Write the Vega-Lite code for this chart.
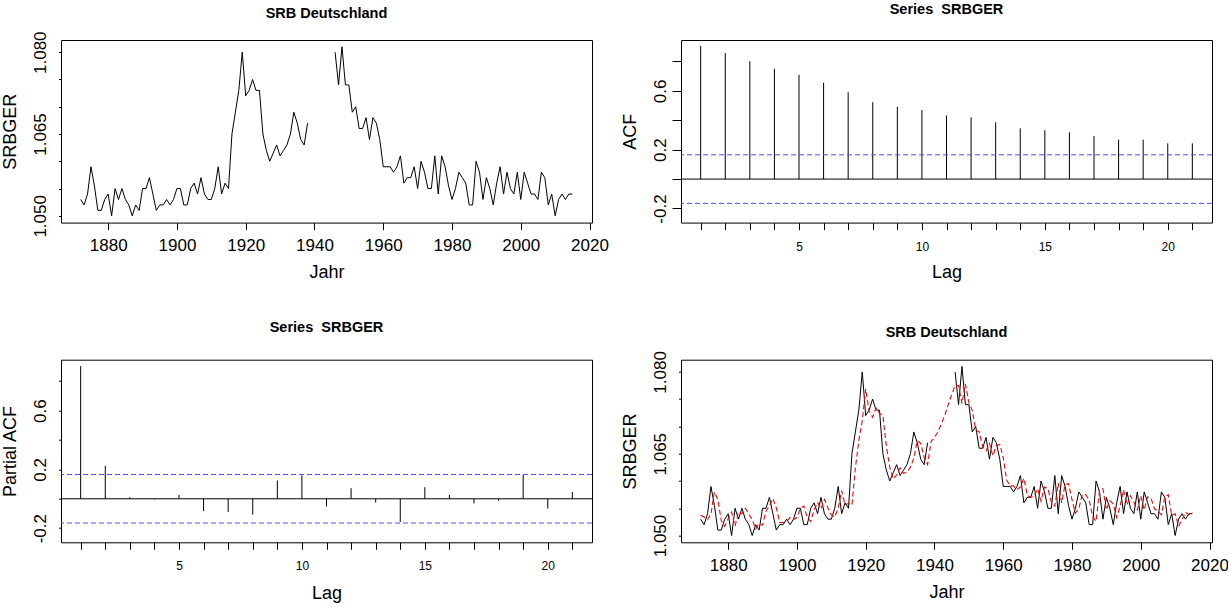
{
  "$schema": "https://vega.github.io/schema/vega-lite/v6.json",
  "background": "white",
  "autosize": {"type": "pad"},
  "padding": {"left": 0, "top": 1, "right": 4, "bottom": 2},
  "columns": 2,
  "spacing": {"row": 136.7, "column": 89},
  "bounds": "flush",
  "datasets": {
    "ts": [
      {"year":1872,"srb":1.053,"fit":1.0537,"seg":1},{"year":1873,"srb":1.052,"fit":1.0534,"seg":1},{"year":1874,"srb":1.054,"fit":1.0529,"seg":1},{"year":1875,"srb":1.059,"fit":1.054,"seg":1},{"year":1876,"srb":1.0555,"fit":1.058,"seg":1},{"year":1877,"srb":1.051,"fit":1.0566,"seg":1},{"year":1878,"srb":1.051,"fit":1.0527,"seg":1},{"year":1879,"srb":1.053,"fit":1.0517,"seg":1},{"year":1880,"srb":1.054,"fit":1.0531,"seg":1},{"year":1881,"srb":1.05,"fit":1.0543,"seg":1},{"year":1882,"srb":1.055,"fit":1.0517,"seg":1},{"year":1883,"srb":1.053,"fit":1.0543,"seg":1},{"year":1884,"srb":1.055,"fit":1.054,"seg":1},{"year":1885,"srb":1.053,"fit":1.055,"seg":1},{"year":1886,"srb":1.052,"fit":1.054,"seg":1},{"year":1887,"srb":1.05,"fit":1.0529,"seg":1},{"year":1888,"srb":1.052,"fit":1.0512,"seg":1},{"year":1889,"srb":1.051,"fit":1.0522,"seg":1},{"year":1890,"srb":1.055,"fit":1.0519,"seg":1},{"year":1891,"srb":1.055,"fit":1.0545,"seg":1},{"year":1892,"srb":1.057,"fit":1.0554,"seg":1},{"year":1893,"srb":1.054,"fit":1.0568,"seg":1},{"year":1894,"srb":1.051,"fit":1.0551,"seg":1},{"year":1895,"srb":1.052,"fit":1.0524,"seg":1},{"year":1896,"srb":1.052,"fit":1.0524,"seg":1},{"year":1897,"srb":1.053,"fit":1.0526,"seg":1},{"year":1898,"srb":1.052,"fit":1.0533,"seg":1},{"year":1899,"srb":1.053,"fit":1.0529,"seg":1},{"year":1900,"srb":1.055,"fit":1.0533,"seg":1},{"year":1901,"srb":1.055,"fit":1.055,"seg":1},{"year":1902,"srb":1.052,"fit":1.0554,"seg":1},{"year":1903,"srb":1.052,"fit":1.0533,"seg":1},{"year":1904,"srb":1.055,"fit":1.0526,"seg":1},{"year":1905,"srb":1.056,"fit":1.0547,"seg":1},{"year":1906,"srb":1.054,"fit":1.0561,"seg":1},{"year":1907,"srb":1.057,"fit":1.0549,"seg":1},{"year":1908,"srb":1.054,"fit":1.0566,"seg":1},{"year":1909,"srb":1.053,"fit":1.0551,"seg":1},{"year":1910,"srb":1.053,"fit":1.0538,"seg":1},{"year":1911,"srb":1.055,"fit":1.0534,"seg":1},{"year":1912,"srb":1.059,"fit":1.055,"seg":1},{"year":1913,"srb":1.054,"fit":1.0582,"seg":1},{"year":1914,"srb":1.056,"fit":1.0556,"seg":1},{"year":1915,"srb":1.055,"fit":1.0559,"seg":1},{"year":1916,"srb":1.065,"fit":1.0556,"seg":1},{"year":1917,"srb":1.069,"fit":1.0624,"seg":1},{"year":1918,"srb":1.073,"fit":1.0674,"seg":1},{"year":1919,"srb":1.08,"fit":1.0711,"seg":1},{"year":1920,"srb":1.072,"fit":1.0769,"seg":1},{"year":1921,"srb":1.073,"fit":1.0728,"seg":1},{"year":1922,"srb":1.075,"fit":1.0717,"seg":1},{"year":1923,"srb":1.073,"fit":1.0734,"seg":1},{"year":1924,"srb":1.073,"fit":1.0724,"seg":1},{"year":1925,"srb":1.065,"fit":1.072,"seg":1},{"year":1926,"srb":1.062,"fit":1.0664,"seg":1},{"year":1927,"srb":1.06,"fit":1.0625,"seg":1},{"year":1928,"srb":1.0615,"fit":1.0604,"seg":1},{"year":1929,"srb":1.063,"fit":1.0611,"seg":1},{"year":1930,"srb":1.061,"fit":1.0624,"seg":1},{"year":1931,"srb":1.062,"fit":1.0614,"seg":1},{"year":1932,"srb":1.063,"fit":1.0616,"seg":1},{"year":1933,"srb":1.065,"fit":1.0625,"seg":1},{"year":1934,"srb":1.069,"fit":1.0642,"seg":1},{"year":1935,"srb":1.067,"fit":1.0674,"seg":1},{"year":1936,"srb":1.064,"fit":1.0669,"seg":1},{"year":1937,"srb":1.063,"fit":1.0643,"seg":1},{"year":1938,"srb":1.067,"fit":1.063,"seg":1},
      {"year":1939,"srb":null,"fit":1.0672,"seg":0},{"year":1940,"srb":null,"fit":1.068,"seg":0},{"year":1941,"srb":null,"fit":1.069,"seg":0},{"year":1942,"srb":null,"fit":1.0705,"seg":0},{"year":1943,"srb":null,"fit":1.072,"seg":0},{"year":1944,"srb":null,"fit":1.074,"seg":0},{"year":1945,"srb":null,"fit":1.0758,"seg":0},
      {"year":1946,"srb":1.08,"fit":1.0775,"seg":2},{"year":1947,"srb":1.074,"fit":1.0775,"seg":2},{"year":1948,"srb":1.081,"fit":1.0742,"seg":2},{"year":1949,"srb":1.074,"fit":1.0778,"seg":2},{"year":1950,"srb":1.074,"fit":1.0744,"seg":2},{"year":1951,"srb":1.069,"fit":1.0729,"seg":2},{"year":1952,"srb":1.07,"fit":1.0694,"seg":2},{"year":1953,"srb":1.066,"fit":1.069,"seg":2},{"year":1954,"srb":1.066,"fit":1.0664,"seg":2},{"year":1955,"srb":1.068,"fit":1.0655,"seg":2},{"year":1956,"srb":1.064,"fit":1.0669,"seg":2},{"year":1957,"srb":1.068,"fit":1.0646,"seg":2},{"year":1958,"srb":1.067,"fit":1.0665,"seg":2},{"year":1959,"srb":1.064,"fit":1.0667,"seg":2},{"year":1960,"srb":1.059,"fit":1.0643,"seg":2},{"year":1961,"srb":1.059,"fit":1.0602,"seg":2},{"year":1962,"srb":1.059,"fit":1.0591,"seg":2},{"year":1963,"srb":1.058,"fit":1.0591,"seg":2},{"year":1964,"srb":1.059,"fit":1.0584,"seg":2},{"year":1965,"srb":1.061,"fit":1.0589,"seg":2},{"year":1966,"srb":1.056,"fit":1.0605,"seg":2},{"year":1967,"srb":1.057,"fit":1.0574,"seg":2},{"year":1968,"srb":1.057,"fit":1.057,"seg":2},{"year":1969,"srb":1.059,"fit":1.0572,"seg":2},{"year":1970,"srb":1.055,"fit":1.0586,"seg":2},{"year":1971,"srb":1.06,"fit":1.0563,"seg":2},{"year":1972,"srb":1.058,"fit":1.0589,"seg":2},{"year":1973,"srb":1.055,"fit":1.0586,"seg":2},{"year":1974,"srb":1.055,"fit":1.0561,"seg":2},{"year":1975,"srb":1.061,"fit":1.0554,"seg":2},{"year":1976,"srb":1.054,"fit":1.0596,"seg":2},{"year":1977,"srb":1.061,"fit":1.056,"seg":2},{"year":1978,"srb":1.059,"fit":1.0594,"seg":2},{"year":1979,"srb":1.0555,"fit":1.0595,"seg":2},{"year":1980,"srb":1.053,"fit":1.0566,"seg":2},{"year":1981,"srb":1.055,"fit":1.0541,"seg":2},{"year":1982,"srb":1.058,"fit":1.055,"seg":2},{"year":1983,"srb":1.057,"fit":1.0575,"seg":2},{"year":1984,"srb":1.056,"fit":1.0575,"seg":2},{"year":1985,"srb":1.052,"fit":1.0565,"seg":2},{"year":1986,"srb":1.052,"fit":1.0535,"seg":2},{"year":1987,"srb":1.06,"fit":1.0526,"seg":2},{"year":1988,"srb":1.058,"fit":1.0582,"seg":2},{"year":1989,"srb":1.053,"fit":1.0586,"seg":2},{"year":1990,"srb":1.057,"fit":1.0547,"seg":2},{"year":1991,"srb":1.055,"fit":1.0564,"seg":2},{"year":1992,"srb":1.052,"fit":1.0558,"seg":2},{"year":1993,"srb":1.056,"fit":1.0533,"seg":2},{"year":1994,"srb":1.059,"fit":1.0554,"seg":2},{"year":1995,"srb":1.054,"fit":1.0584,"seg":2},{"year":1996,"srb":1.058,"fit":1.0556,"seg":2},{"year":1997,"srb":1.055,"fit":1.0573,"seg":2},{"year":1998,"srb":1.054,"fit":1.0561,"seg":2},{"year":1999,"srb":1.058,"fit":1.0547,"seg":2},{"year":2000,"srb":1.053,"fit":1.0573,"seg":2},{"year":2001,"srb":1.058,"fit":1.0547,"seg":2},{"year":2002,"srb":1.056,"fit":1.0571,"seg":2},{"year":2003,"srb":1.054,"fit":1.0568,"seg":2},{"year":2004,"srb":1.054,"fit":1.0549,"seg":2},{"year":2005,"srb":1.053,"fit":1.0545,"seg":2},{"year":2006,"srb":1.058,"fit":1.0538,"seg":2},{"year":2007,"srb":1.057,"fit":1.0571,"seg":2},{"year":2008,"srb":1.052,"fit":1.0575,"seg":2},{"year":2009,"srb":1.054,"fit":1.0537,"seg":2},{"year":2010,"srb":1.05,"fit":1.054,"seg":2},{"year":2011,"srb":1.053,"fit":1.0517,"seg":2},{"year":2012,"srb":1.054,"fit":1.0529,"seg":2},{"year":2013,"srb":1.053,"fit":1.0543,"seg":2},{"year":2014,"srb":1.054,"fit":1.0538,"seg":2},{"year":2015,"srb":1.054,"fit":1.0543,"seg":2}
    ],
    "acf": [
      {"lag":1,"acf":0.905},{"lag":2,"acf":0.857},{"lag":3,"acf":0.802},{"lag":4,"acf":0.75},{"lag":5,"acf":0.709},{"lag":6,"acf":0.655},{"lag":7,"acf":0.591},{"lag":8,"acf":0.523},{"lag":9,"acf":0.491},{"lag":10,"acf":0.47},{"lag":11,"acf":0.432},{"lag":12,"acf":0.42},{"lag":13,"acf":0.386},{"lag":14,"acf":0.345},{"lag":15,"acf":0.332},{"lag":16,"acf":0.318},{"lag":17,"acf":0.293},{"lag":18,"acf":0.268},{"lag":19,"acf":0.268},{"lag":20,"acf":0.243},{"lag":21,"acf":0.243}
    ],
    "pacf": [
      {"lag":1,"pacf":0.902},{"lag":2,"pacf":0.224},{"lag":3,"pacf":0.011},{"lag":4,"pacf":-0.004},{"lag":5,"pacf":0.027},{"lag":6,"pacf":-0.084},{"lag":7,"pacf":-0.09},{"lag":8,"pacf":-0.108},{"lag":9,"pacf":0.124},{"lag":10,"pacf":0.16},{"lag":11,"pacf":-0.052},{"lag":12,"pacf":0.072},{"lag":13,"pacf":-0.025},{"lag":14,"pacf":-0.158},{"lag":15,"pacf":0.079},{"lag":16,"pacf":0.027},{"lag":17,"pacf":-0.032},{"lag":18,"pacf":-0.014},{"lag":19,"pacf":0.163},{"lag":20,"pacf":-0.066},{"lag":21,"pacf":0.047}
    ],
    "ci": [{"ci":0.165},{"ci":-0.165}],
    "zero": [{"z":0}]
  },
  "concat": [
    {
      "width": 531, "height": 182.6,
      "title": {"text": "SRB Deutschland", "fontSize": 14.5, "fontWeight": "bold", "anchor": "middle", "frame": "group", "baseline": "alphabetic", "offset": -1.8},
      "data": {"name": "ts"},
      "transform": [{"filter": "datum.srb != null"}],
      "mark": {"type": "line", "color": "#000", "strokeWidth": 1},
      "encoding": {
        "x": {"field": "year", "type": "quantitative", "scale": {"domain": [1866.28, 2020.72], "nice": false, "zero": false},
          "axis": {"values": [1880,1900,1920,1940,1960,1980,2000,2020], "format": "d", "title": "Jahr", "tickSize": 7, "labelPadding": 20.5, "labelBaseline": "alphabetic", "labelFontSize": 17, "labelFlush": false, "labelOverlap": false, "titleX": 265.5, "titleY": 54.5, "titleBaseline": "alphabetic", "titleAlign": "center"}},
        "y": {"field": "srb", "type": "quantitative", "scale": {"domain": [1.04876, 1.08224], "nice": false, "zero": false},
          "axis": {"values": [1.05,1.055,1.06,1.065,1.07,1.075,1.08], "labelExpr": "(abs(datum.value-1.05)<1e-6 || abs(datum.value-1.065)<1e-6 || abs(datum.value-1.08)<1e-6) ? format(datum.value, '.3f') : ''", "title": "SRBGER", "tickSize": 2.5, "labelAngle": -90, "labelAlign": "center", "labelBaseline": "alphabetic", "labelPadding": 13.2, "labelFontSize": 17, "labelOverlap": false, "labelFlush": false, "titleX": -45.7, "titleY": 91.3, "titleAngle": -90, "titleAlign": "center", "titleBaseline": "alphabetic"}},
        "detail": {"field": "seg", "type": "nominal"}
      }
    },
    {
      "width": 531, "height": 182.6,
      "title": {"text": "Series \u00a0SRBGER", "fontSize": 14.5, "fontWeight": "bold", "anchor": "middle", "frame": "group", "baseline": "alphabetic", "offset": 12},
      "layer": [
        {
          "data": {"name": "acf"},
          "mark": {"type": "rule", "color": "#000", "strokeWidth": 1},
          "encoding": {
            "x": {"field": "lag", "type": "quantitative", "scale": {"domain": [0.2, 21.8], "nice": false, "zero": false},
              "axis": {"values": [1,2,3,4,5,6,7,8,9,10,11,12,13,14,15,16,17,18,19,20,21], "labelExpr": "datum.value % 5 == 0 ? datum.label : ''", "title": "Lag", "tickSize": 7, "labelPadding": 20.5, "labelBaseline": "alphabetic", "labelFontSize": 12, "labelFlush": false, "labelOverlap": false, "titleX": 265.5, "titleY": 54.5, "titleBaseline": "alphabetic", "titleAlign": "center"}},
            "y": {"field": "acf", "type": "quantitative", "scale": {"domain": [-0.296, 0.946], "nice": false, "zero": false},
              "axis": {"values": [-0.2,0,0.2,0.4,0.6,0.8], "labelExpr": "abs(datum.value+0.2)<1e-6 ? '-0.2' : abs(datum.value-0.2)<1e-6 ? '0.2' : abs(datum.value-0.6)<1e-6 ? '0.6' : ''", "title": "ACF", "tickSize": 9, "labelAngle": -90, "labelAlign": "center", "labelBaseline": "alphabetic", "labelPadding": 6.7, "labelFontSize": 17, "labelOverlap": false, "labelFlush": false, "titleX": -45.7, "titleY": 91.3, "titleAngle": -90, "titleAlign": "center", "titleBaseline": "alphabetic"}},
            "y2": {"datum": 0}
          }
        },
        {
          "data": {"name": "ci"},
          "mark": {"type": "rule", "color": "#4d4dff", "strokeWidth": 1, "strokeDash": [5, 3]},
          "encoding": {"y": {"field": "ci", "type": "quantitative", "scale": {"domain": [-0.296, 0.946], "nice": false, "zero": false},
            "axis": {"values": [-0.2,0,0.2,0.4,0.6,0.8], "labelExpr": "abs(datum.value+0.2)<1e-6 ? '-0.2' : abs(datum.value-0.2)<1e-6 ? '0.2' : abs(datum.value-0.6)<1e-6 ? '0.6' : ''", "title": "ACF", "tickSize": 9, "labelAngle": -90, "labelAlign": "center", "labelBaseline": "alphabetic", "labelPadding": 6.7, "labelFontSize": 17, "labelOverlap": false, "labelFlush": false, "titleX": -45.7, "titleY": 91.3, "titleAngle": -90, "titleAlign": "center", "titleBaseline": "alphabetic"}}}
        },
        {
          "data": {"name": "zero"},
          "mark": {"type": "rule", "color": "#000", "strokeWidth": 1},
          "encoding": {"y": {"field": "z", "type": "quantitative", "scale": {"domain": [-0.296, 0.946], "nice": false, "zero": false},
            "axis": {"values": [-0.2,0,0.2,0.4,0.6,0.8], "labelExpr": "abs(datum.value+0.2)<1e-6 ? '-0.2' : abs(datum.value-0.2)<1e-6 ? '0.2' : abs(datum.value-0.6)<1e-6 ? '0.6' : ''", "title": "ACF", "tickSize": 9, "labelAngle": -90, "labelAlign": "center", "labelBaseline": "alphabetic", "labelPadding": 6.7, "labelFontSize": 17, "labelOverlap": false, "labelFlush": false, "titleX": -45.7, "titleY": 91.3, "titleAngle": -90, "titleAlign": "center", "titleBaseline": "alphabetic"}}}
        }
      ]
    },
    {
      "width": 531, "height": 182.6,
      "title": {"text": "Series \u00a0SRBGER", "fontSize": 14.5, "fontWeight": "bold", "anchor": "middle", "frame": "group", "baseline": "alphabetic", "offset": 13},
      "layer": [
        {
          "data": {"name": "pacf"},
          "mark": {"type": "rule", "color": "#000", "strokeWidth": 1},
          "encoding": {
            "x": {"field": "lag", "type": "quantitative", "scale": {"domain": [0.2, 21.8], "nice": false, "zero": false},
              "axis": {"values": [1,2,3,4,5,6,7,8,9,10,11,12,13,14,15,16,17,18,19,20,21], "labelExpr": "datum.value % 5 == 0 ? datum.label : ''", "title": "Lag", "tickSize": 7, "labelPadding": 20.5, "labelBaseline": "alphabetic", "labelFontSize": 12, "labelFlush": false, "labelOverlap": false, "titleX": 265.5, "titleY": 56.5, "titleBaseline": "alphabetic", "titleAlign": "center"}},
            "y": {"field": "pacf", "type": "quantitative", "scale": {"domain": [-0.296, 0.946], "nice": false, "zero": false},
              "axis": {"values": [-0.2,0,0.2,0.4,0.6,0.8], "labelExpr": "abs(datum.value+0.2)<1e-6 ? '-0.2' : abs(datum.value-0.2)<1e-6 ? '0.2' : abs(datum.value-0.6)<1e-6 ? '0.6' : ''", "title": "Partial ACF", "tickSize": 2.5, "labelAngle": -90, "labelAlign": "center", "labelBaseline": "alphabetic", "labelPadding": 13.2, "labelFontSize": 17, "labelOverlap": false, "labelFlush": false, "titleX": -45.7, "titleY": 91.3, "titleAngle": -90, "titleAlign": "center", "titleBaseline": "alphabetic"}},
            "y2": {"datum": 0}
          }
        },
        {
          "data": {"name": "ci"},
          "mark": {"type": "rule", "color": "#4d4dff", "strokeWidth": 1, "strokeDash": [5, 3]},
          "encoding": {"y": {"field": "ci", "type": "quantitative", "scale": {"domain": [-0.296, 0.946], "nice": false, "zero": false},
            "axis": {"values": [-0.2,0,0.2,0.4,0.6,0.8], "labelExpr": "abs(datum.value+0.2)<1e-6 ? '-0.2' : abs(datum.value-0.2)<1e-6 ? '0.2' : abs(datum.value-0.6)<1e-6 ? '0.6' : ''", "title": "Partial ACF", "tickSize": 2.5, "labelAngle": -90, "labelAlign": "center", "labelBaseline": "alphabetic", "labelPadding": 13.2, "labelFontSize": 17, "labelOverlap": false, "labelFlush": false, "titleX": -45.7, "titleY": 91.3, "titleAngle": -90, "titleAlign": "center", "titleBaseline": "alphabetic"}}}
        },
        {
          "data": {"name": "zero"},
          "mark": {"type": "rule", "color": "#000", "strokeWidth": 1},
          "encoding": {"y": {"field": "z", "type": "quantitative", "scale": {"domain": [-0.296, 0.946], "nice": false, "zero": false},
            "axis": {"values": [-0.2,0,0.2,0.4,0.6,0.8], "labelExpr": "abs(datum.value+0.2)<1e-6 ? '-0.2' : abs(datum.value-0.2)<1e-6 ? '0.2' : abs(datum.value-0.6)<1e-6 ? '0.6' : ''", "title": "Partial ACF", "tickSize": 2.5, "labelAngle": -90, "labelAlign": "center", "labelBaseline": "alphabetic", "labelPadding": 13.2, "labelFontSize": 17, "labelOverlap": false, "labelFlush": false, "titleX": -45.7, "titleY": 91.3, "titleAngle": -90, "titleAlign": "center", "titleBaseline": "alphabetic"}}}
        }
      ]
    },
    {
      "width": 531, "height": 182.6,
      "title": {"text": "SRB Deutschland", "fontSize": 14.5, "fontWeight": "bold", "anchor": "middle", "frame": "group", "baseline": "alphabetic", "offset": -1.2},
      "data": {"name": "ts"},
      "layer": [
        {
          "transform": [{"filter": "datum.srb != null"}],
          "mark": {"type": "line", "color": "#000", "strokeWidth": 1},
          "encoding": {
            "x": {"field": "year", "type": "quantitative", "scale": {"domain": [1866.28, 2020.72], "nice": false, "zero": false},
              "axis": {"values": [1880,1900,1920,1940,1960,1980,2000,2020], "format": "d", "title": "Jahr", "tickSize": 7, "labelPadding": 21.5, "labelBaseline": "alphabetic", "labelFontSize": 17, "labelFlush": false, "labelOverlap": false, "titleX": 265.5, "titleY": 55.5, "titleBaseline": "alphabetic", "titleAlign": "center"}},
            "y": {"field": "srb", "type": "quantitative", "scale": {"domain": [1.04876, 1.08224], "nice": false, "zero": false},
              "axis": {"values": [1.05,1.055,1.06,1.065,1.07,1.075,1.08], "labelExpr": "(abs(datum.value-1.05)<1e-6 || abs(datum.value-1.065)<1e-6 || abs(datum.value-1.08)<1e-6) ? format(datum.value, '.3f') : ''", "title": "SRBGER", "tickSize": 2.5, "labelAngle": -90, "labelAlign": "center", "labelBaseline": "alphabetic", "labelPadding": 13.2, "labelFontSize": 17, "labelOverlap": false, "labelFlush": false, "titleX": -45.7, "titleY": 91.3, "titleAngle": -90, "titleAlign": "center", "titleBaseline": "alphabetic"}},
            "detail": {"field": "seg", "type": "nominal"}
          }
        },
        {
          "mark": {"type": "line", "color": "#ff0000", "strokeWidth": 1.1, "strokeDash": [5, 3]},
          "encoding": {
            "x": {"field": "year", "type": "quantitative", "scale": {"domain": [1866.28, 2020.72], "nice": false, "zero": false},
              "axis": {"values": [1880,1900,1920,1940,1960,1980,2000,2020], "format": "d", "title": "Jahr", "tickSize": 7, "labelPadding": 21.5, "labelBaseline": "alphabetic", "labelFontSize": 17, "labelFlush": false, "labelOverlap": false, "titleX": 265.5, "titleY": 55.5, "titleBaseline": "alphabetic", "titleAlign": "center"}},
            "y": {"field": "fit", "type": "quantitative", "scale": {"domain": [1.04876, 1.08224], "nice": false, "zero": false},
              "axis": {"values": [1.05,1.055,1.06,1.065,1.07,1.075,1.08], "labelExpr": "(abs(datum.value-1.05)<1e-6 || abs(datum.value-1.065)<1e-6 || abs(datum.value-1.08)<1e-6) ? format(datum.value, '.3f') : ''", "title": "SRBGER", "tickSize": 2.5, "labelAngle": -90, "labelAlign": "center", "labelBaseline": "alphabetic", "labelPadding": 13.2, "labelFontSize": 17, "labelOverlap": false, "labelFlush": false, "titleX": -45.7, "titleY": 91.3, "titleAngle": -90, "titleAlign": "center", "titleBaseline": "alphabetic"}}
          }
        }
      ]
    }
  ],
  "config": {
    "font": "Liberation Sans",
    "view": {"stroke": "#000", "strokeWidth": 1},
    "axis": {"grid": false, "domain": false, "tickColor": "#000", "tickWidth": 1, "labelColor": "#000", "titleColor": "#000", "titleFontWeight": "normal", "titleFontSize": 18, "titleFont": "Liberation Sans", "labelFont": "Liberation Sans"},
    "title": {"color": "#000", "font": "Liberation Sans"}
  }
}
